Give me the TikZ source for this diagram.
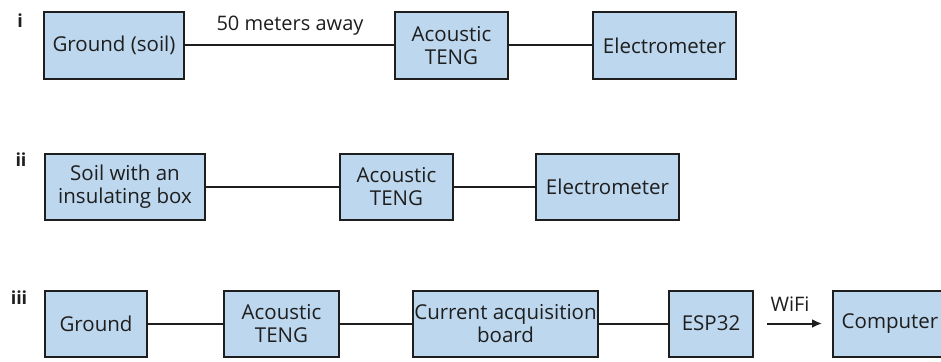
\documentclass[tikz,border=0pt]{standalone}
\usepackage{fontspec}
\setmainfont{Open Sans}
\usepackage{tikz}
\usetikzlibrary{arrows.meta}

\definecolor{boxblue}{HTML}{BDD7EE}
\definecolor{inkgray}{HTML}{1E1E1E}

\begin{document}
\begin{tikzpicture}[x=1pt, y=-1pt, line width=2pt, draw=inkgray,
    box/.style={rectangle, draw=inkgray, fill=boxblue, inner sep=0pt, align=center, text=inkgray,
      minimum height=66pt, font=\fontsize{20.5}{23.5}\selectfont},
    tag/.style={text=inkgray, inner sep=0pt, font=\bfseries\fontsize{18}{18}\selectfont},
    note/.style={text=inkgray, inner sep=0pt, font=\fontsize{20}{20}\selectfont}]
  \useasboundingbox (0,0) rectangle (941,361);
  % row i
  \node [tag] (ti) at (20, 21) {i};
  \node [box, minimum width=140pt] (g1) at (114, 45.5) {Ground (soil)};
  \node [box, minimum width=113pt] (a1) at (451.5, 45.5) {Acoustic\\TENG};
  \node [box, minimum width=143pt] (e1) at (664.5, 45.5) {Electrometer};
  \node [note] (d1) at (290, 26) {50 meters away};
  \draw (g1) -- (a1);
  \draw (a1) -- (e1);
  % row ii
  \node [tag] (tii) at (21, 160) {ii};
  \node [box, minimum width=160pt] (s2) at (125, 186.5) {Soil with an\\insulating box};
  \node [box, minimum width=113pt] (a2) at (396.5, 186.5) {Acoustic\\TENG};
  \node [box, minimum width=143pt] (e2) at (607.5, 186.5) {Electrometer};
  \draw (s2) -- (a2);
  \draw (a2) -- (e2);
  % row iii
  \node [tag] (tiii) at (19, 298) {iii};
  \node [box, minimum width=102pt] (g3) at (96, 323.5) {Ground};
  \node [box, minimum width=115pt] (a3) at (281.5, 323.5) {Acoustic\\TENG};
  \node [box, minimum width=185pt] (c3) at (505.5, 323.5) {Current acquisition\\board};
  \node [box, minimum width=84pt] (p3) at (711, 323.5) {ESP32};
  \node [box, minimum width=114pt] (m3) at (890, 323.5) {Computer};
  \node [note] (w3) at (790, 304) {WiFi};
  \draw (g3) -- (a3);
  \draw (a3) -- (c3);
  \draw (c3) -- (p3);
  \draw [-{Latex[length=10pt, width=9pt]}, shorten <=13pt, shorten >=10pt] (p3) -- (m3);
\end{tikzpicture}
\end{document}
